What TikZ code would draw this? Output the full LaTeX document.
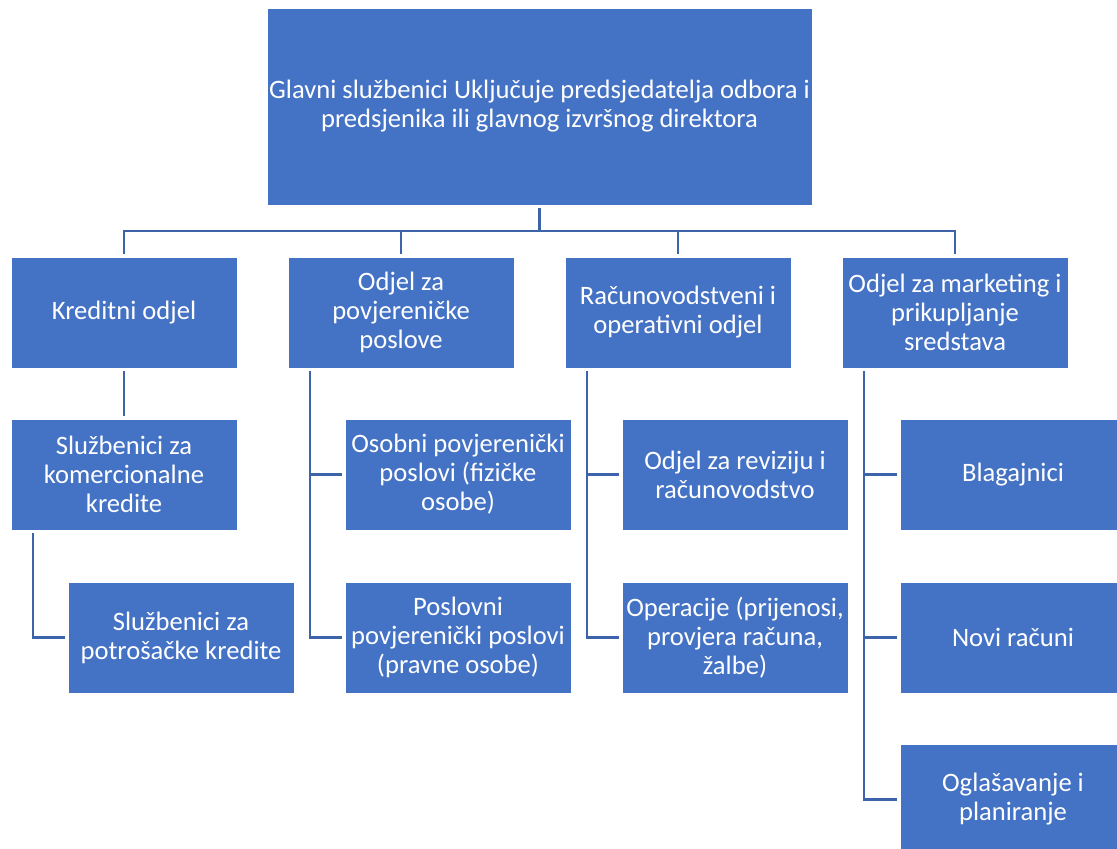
\documentclass[tikz,border=0pt]{standalone}
\usepackage{fontspec}
\setmainfont{Carlito}
\definecolor{boxblue}{HTML}{4472C4}
\definecolor{linkblue}{HTML}{3D63AB}
\begin{document}
\begin{tikzpicture}[x=1pt,y=-1pt,
  orgbox/.style={fill=boxblue,draw=white,line width=0.8pt,text=white,
    font=\fontsize{26.6}{29}\selectfont,align=center,
    minimum width=226pt,minimum height=111pt,inner sep=1pt,outer sep=3pt,
    anchor=north west,xshift=-3pt,yshift=3pt},
  link/.style={draw=linkblue,line width=2.6pt}]
\useasboundingbox (0,0) rectangle (1117,849);
% top level
\node[orgbox,minimum width=545pt,minimum height=197pt] (top) at (267,8)
  {Glavni službenici Uključuje predsjedatelja odbora i\\predsjenika ili glavnog izvršnog direktora};
% departments
\node[orgbox] (k1) at (11,257) {Kreditni odjel};
\node[orgbox] (k2) at (288,257) {Odjel za\\povjereničke\\poslove};
\node[orgbox] (k3) at (565,257) {Računovodstveni i\\operativni odjel};
\node[orgbox] (k4) at (842,257) {Odjel za marketing i\\prikupljanje\\sredstava};
% sub-units
\node[orgbox] (k1a) at (11,419) {Službenici za\\komercionalne\\kredite};
\node[orgbox] (k1b) at (68,582) {Službenici za\\potrošačke kredite};
\node[orgbox] (k2a) at (345,419) {Osobni povjerenički\\poslovi (fizičke\\osobe)};
\node[orgbox] (k2b) at (345,582) {Poslovni\\povjerenički poslovi\\(pravne osobe)};
\node[orgbox] (k3a) at (622,419) {Odjel za reviziju i\\računovodstvo};
\node[orgbox] (k3b) at (622,582) {Operacije (prijenosi,\\provjera računa,\\žalbe)};
\node[orgbox] (k4a) at (900,419) {Blagajnici};
\node[orgbox] (k4b) at (900,582) {Novi računi};
\node[orgbox] (k4c) at (900,744) {Oglašavanje i\\planiranje};
% connector routing points
\coordinate (bus) at (0,231);
\coordinate (t1) at (33,0);
\coordinate (t2) at (310,0);
\coordinate (t3) at (587,0);
\coordinate (t4) at (864,0);
% top to departments
\draw[link] (top.south) -- (top.south |- bus);
\draw[link] (k1.north) |- (bus -| k4.north) -- (k4.north);
\draw[link] (k2.north) -- (k2.north |- bus);
\draw[link] (k3.north) -- (k3.north |- bus);
% credit branch
\draw[link] (k1.south) -- (k1a.north);
\draw[link] (k1a.south -| t1) |- (k1b.west);
% trust branch
\draw[link] (k2.south -| t2) |- (k2a.west);
\draw[link] (k2.south -| t2) |- (k2b.west);
% accounting branch
\draw[link] (k3.south -| t3) |- (k3a.west);
\draw[link] (k3.south -| t3) |- (k3b.west);
% marketing branch
\draw[link] (k4.south -| t4) |- (k4a.west);
\draw[link] (k4.south -| t4) |- (k4b.west);
\draw[link] (k4.south -| t4) |- (k4c.west);
\end{tikzpicture}
\end{document}
